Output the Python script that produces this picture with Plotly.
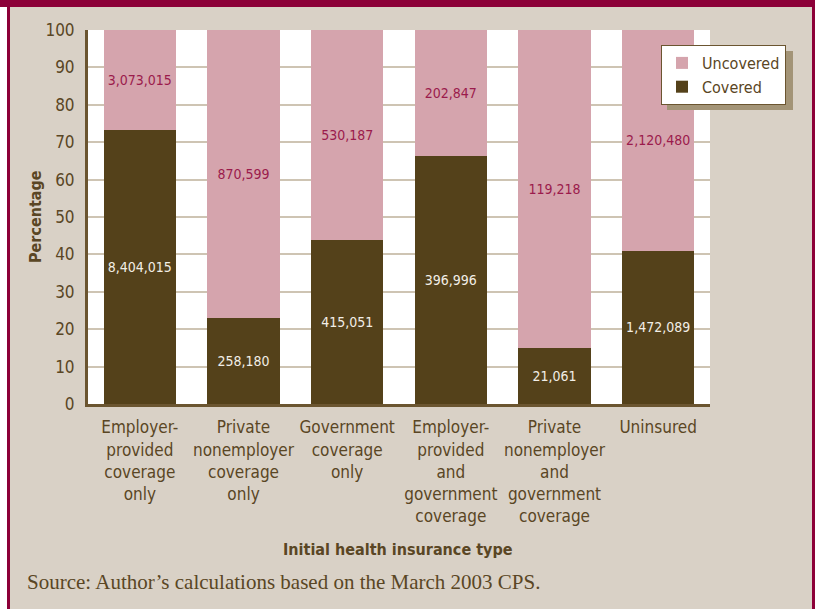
import plotly.graph_objects as go

categories = [
    "Employer-<br>provided<br>coverage<br>only",
    "Private<br>nonemployer<br>coverage<br>only",
    "Government<br>coverage<br>only",
    "Employer-<br>provided<br>and<br>government<br>coverage",
    "Private<br>nonemployer<br>and<br>government<br>coverage",
    "Uninsured",
]
covered_pct = [73.2, 22.9, 43.9, 66.2, 15.0, 41.0]
uncovered_pct = [26.8, 77.1, 56.1, 33.8, 85.0, 59.0]
covered_labels = ["8,404,015", "258,180", "415,051", "396,996", "21,061", "1,472,089"]
uncovered_labels = ["3,073,015", "870,599", "530,187", "202,847", "119,218", "2,120,480"]
y_ticks = [0, 10, 20, 30, 40, 50, 60, 70, 80, 90, 100]

W, H = 817, 609
L, R, T, B = 88, 710, 30, 404

def px(x):
    return (x - L) / (R - L)

def py(y):
    return (B - y) / (B - T)

BEIGE = "#D9D1C6"
MAROON = "#8C0038"
BROWN = "#54411A"
PINK = "#D5A4AD"
TXT = "#5A4624"
NARROW = "Liberation Sans Narrow, DejaVu Sans Condensed, Arial Narrow, sans-serif"

fig = go.Figure()
fig.add_trace(go.Bar(
    x=categories, y=covered_pct, name="Covered", marker=dict(color=BROWN, line=dict(width=0)),
    text=covered_labels, textposition="inside", insidetextanchor="middle", textangle=0,
    constraintext="none", textfont=dict(color="#F2EEE6", size=14, family=NARROW),
))
fig.add_trace(go.Bar(
    x=categories, y=uncovered_pct, name="Uncovered", marker=dict(color=PINK, line=dict(width=0)),
    text=uncovered_labels, textposition="inside", insidetextanchor="middle", textangle=0,
    constraintext="none", textfont=dict(color="#9B1B4C", size=14, family=NARROW),
))

shapes = [
    dict(type="rect", xref="paper", yref="paper", x0=px(0), x1=px(W), y0=py(0), y1=py(7),
         fillcolor=MAROON, line=dict(width=0), layer="above"),
    dict(type="rect", xref="paper", yref="paper", x0=px(0), x1=px(7), y0=py(7), y1=py(H),
         fillcolor="white", line=dict(width=0), layer="above"),
    dict(type="rect", xref="paper", yref="paper", x0=px(7), x1=px(10), y0=py(0), y1=py(H),
         fillcolor=MAROON, line=dict(width=0), layer="above"),
    dict(type="rect", xref="paper", yref="paper", x0=px(812), x1=px(815), y0=py(0), y1=py(H),
         fillcolor=MAROON, line=dict(width=0), layer="above"),
    dict(type="rect", xref="paper", yref="paper", x0=px(815), x1=px(W), y0=py(0), y1=py(H),
         fillcolor="white", line=dict(width=0), layer="above"),
    dict(type="rect", xref="paper", yref="paper", x0=px(667), x1=px(793), y0=py(51), y1=py(110),
         fillcolor="#A39477", line=dict(width=0), layer="above"),
]

annotations = [
    dict(text="<b>Percentage</b>", xref="paper", yref="paper", x=px(35), y=py(217),
         showarrow=False, textangle=-90, font=dict(family=NARROW, size=16, color=TXT),
         xanchor="center", yanchor="middle"),
    dict(text="<b>Initial health insurance type</b>", xref="paper", yref="paper", x=px(398), y=py(549),
         showarrow=False, font=dict(family=NARROW, size=16, color=TXT),
         xanchor="center", yanchor="middle"),
    dict(text="Source: Author\u2019s calculations based on the March 2003 CPS.", xref="paper", yref="paper",
         x=px(25), y=py(582), showarrow=False, xanchor="left", yanchor="middle",
         font=dict(family="Liberation Serif, DejaVu Serif, serif", size=21, color=TXT)),
]

fig.update_layout(
    width=W, height=H,
    margin=dict(l=L, r=W - R, t=T, b=H - B, pad=0),
    paper_bgcolor=BEIGE, plot_bgcolor="white",
    barmode="stack", bargap=0.3,
    showlegend=True,
    legend=dict(x=px(661), y=py(45), xanchor="left", yanchor="top", bgcolor="white",
                bordercolor="#6B5530", borderwidth=1, traceorder="reversed",
                font=dict(family=NARROW, size=16, color=TXT)),
    shapes=shapes, annotations=annotations,
    font=dict(family=NARROW, color=TXT),
)
fig.update_xaxes(showgrid=False, showline=True, linecolor="#6B5530", linewidth=3, tickangle=0,
                 tickfont=dict(family=NARROW, size=17, color=TXT), ticks="", ticklabelstandoff=6,
                 fixedrange=True)
fig.update_yaxes(range=[0, 100], tickvals=y_ticks, showgrid=True, gridcolor="#CEC4B3", gridwidth=2,
                 showline=True, linecolor="#6B5530", linewidth=3, zeroline=False,
                 tickfont=dict(family=NARROW, size=17, color=TXT), ticks="", ticklabelstandoff=7)

fig.write_html("out.html", config={"displayModeBar": False},
               post_script="document.body.style.margin='0';document.body.style.overflow='hidden';")
